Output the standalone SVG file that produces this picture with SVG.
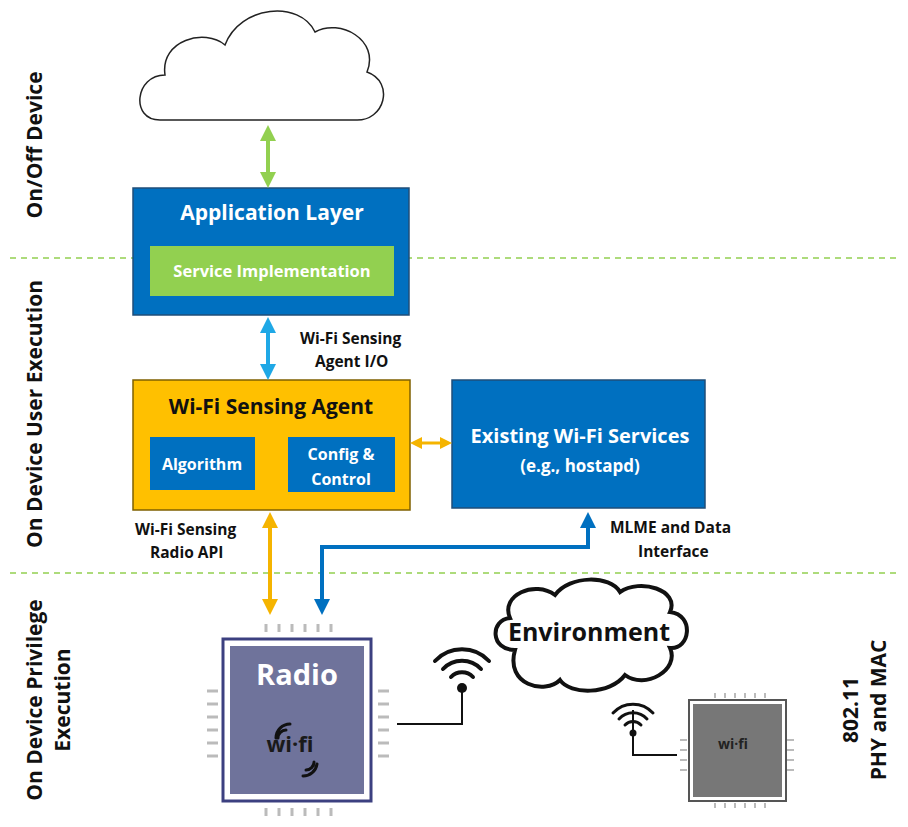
<svg xmlns="http://www.w3.org/2000/svg" width="908" height="827" viewBox="0 0 908 827">
<defs>
<style>
text{font-family:"Open Sans","Liberation Sans",sans-serif;font-weight:bold}
.w{fill:#fff}.k{fill:#111}
.dash{stroke:#92d050;stroke-width:1.5;stroke-dasharray:6 5}
.pin{stroke:#bbb;stroke-width:3}
.pin2{stroke:#bbb;stroke-width:2}
.wf{fill:none;stroke:#111;stroke-width:4;stroke-linecap:round}
.wfs{fill:none;stroke:#111;stroke-width:3;stroke-linecap:round}
</style>
<marker id="ag" markerWidth="4" markerHeight="4" refX="2" refY="2" orient="auto-start-reverse" markerUnits="strokeWidth"><path d="M0,0L4,2L0,4z" fill="#92d050"/></marker>
<marker id="ab" markerWidth="4" markerHeight="4" refX="2" refY="2" orient="auto-start-reverse" markerUnits="strokeWidth"><path d="M0,0L4,2L0,4z" fill="#1fa8e6"/></marker>
<marker id="ay" markerWidth="4" markerHeight="4" refX="2" refY="2" orient="auto-start-reverse" markerUnits="strokeWidth"><path d="M0,0L4,2L0,4z" fill="#f5b400"/></marker>
<marker id="ad" markerWidth="4" markerHeight="4" refX="2" refY="2" orient="auto-start-reverse" markerUnits="strokeWidth"><path d="M0,0L4,2L0,4z" fill="#0070c0"/></marker>
</defs>
<rect width="908" height="827" fill="#fff"/>
<line class="dash" x1="10" y1="258" x2="898" y2="258"/>
<line class="dash" x1="10" y1="573" x2="898" y2="573"/>
<g id="labels">
<text class="k" font-size="21" transform="translate(42,145) rotate(-90)" text-anchor="middle">On/Off Device</text>
<text class="k" font-size="21" transform="translate(42,414) rotate(-90)" text-anchor="middle">On Device User Execution</text>
<text class="k" font-size="21" transform="translate(42,700) rotate(-90)" text-anchor="middle">On Device Privilege</text>
<text class="k" font-size="21" transform="translate(70,700) rotate(-90)" text-anchor="middle">Execution</text>
<text class="k" font-size="21" transform="translate(858,710) rotate(-90)" text-anchor="middle">802.11</text>
<text class="k" font-size="21" transform="translate(886,710) rotate(-90)" text-anchor="middle">PHY and MAC</text>
</g>
<g id="cloud">
<path d="M160,120 C130,120 135,75 165,75 C160,40 205,28 225,45 C240,5 300,0 315,32 C340,18 380,40 367,72 C395,82 385,122 355,120 Z" fill="#fff" stroke="#222" stroke-width="1.5"/>
</g>
<g id="app">
<rect x="133" y="188" width="276" height="127" fill="#0070c0" stroke="#1f4e79" stroke-width="1.5"/>
<text class="w" x="272" y="220" font-size="21" text-anchor="middle">Application Layer</text>
<rect x="150" y="246" width="244" height="50" fill="#92d050"/>
<text class="w" x="272" y="277" font-size="16.5" text-anchor="middle">Service Implementation</text>
</g>
<g id="agent">
<rect x="133" y="380" width="277" height="130" fill="#ffc000" stroke="#7f6000" stroke-width="1.5"/>
<text class="k" x="271" y="414" font-size="21" text-anchor="middle">Wi-Fi Sensing Agent</text>
<rect x="150" y="437" width="105" height="53" fill="#0070c0"/>
<text class="w" x="202" y="470" font-size="16" text-anchor="middle">Algorithm</text>
<rect x="288" y="437" width="107" height="55" fill="#0070c0"/>
<text class="w" x="341" y="460" font-size="16" text-anchor="middle">Config &amp;</text>
<text class="w" x="341" y="485" font-size="16" text-anchor="middle">Control</text>
</g>
<g id="existing">
<rect x="452" y="380" width="253" height="128" fill="#0070c0" stroke="#1f4e79" stroke-width="1.5"/>
<text class="w" x="580" y="443" font-size="20" text-anchor="middle">Existing Wi-Fi Services</text>
<text class="w" x="580" y="472" font-size="17" text-anchor="middle">(e.g., hostapd)</text>
</g>
<g id="connectors" fill="none">
<line x1="268" y1="133" x2="268" y2="180" stroke="#92d050" stroke-width="4" marker-start="url(#ag)" marker-end="url(#ag)"/>
<line x1="268" y1="325" x2="268" y2="372" stroke="#1fa8e6" stroke-width="4" marker-start="url(#ab)" marker-end="url(#ab)"/>
<line x1="416" y1="443" x2="446" y2="443" stroke="#f5b400" stroke-width="3" marker-start="url(#ay)" marker-end="url(#ay)"/>
<line x1="270" y1="520" x2="270" y2="607" stroke="#f5b400" stroke-width="4" marker-start="url(#ay)" marker-end="url(#ay)"/>
<path d="M322,607 V547 H588 V520" stroke="#0070c0" stroke-width="4" marker-start="url(#ad)" marker-end="url(#ad)"/>
<text class="k" x="300" y="344" font-size="15.5">Wi-Fi Sensing</text>
<text class="k" x="315" y="367" font-size="15.5">Agent I/O</text>
<text class="k" x="135" y="535" font-size="15.5">Wi-Fi Sensing</text>
<text class="k" x="150" y="558" font-size="15.5">Radio API</text>
<text class="k" x="610" y="533" font-size="15.5">MLME and Data</text>
<text class="k" x="638" y="557" font-size="15.5">Interface</text>
<path d="M397,724 H462 V688" stroke="#111" stroke-width="2"/>
<path d="M677,755 H633 V710" stroke="#111" stroke-width="2"/>
</g>
<g id="radio">
<g class="pin"><path d="M266,624v8M279,624v8M292,624v8M305,624v8M318,624v8M331,624v8M266,808v8M279,808v8M292,808v8M305,808v8M318,808v8M331,808v8"/>
<path d="M207,691h11M207,704h11M207,717h11M207,730h11M207,743h11M207,756h11M378,691h11M378,704h11M378,717h11M378,730h11M378,743h11M378,756h11"/></g>
<rect x="223" y="639" width="148" height="162" fill="#fff" stroke="#3c4080" stroke-width="3"/>
<rect x="230" y="646" width="134" height="148" fill="#6f739b"/>
<text class="w" x="297" y="685" font-size="29" text-anchor="middle">Radio</text>
<text x="290" y="752" font-size="22" fill="#1a1a1a" text-anchor="middle" font-family="Liberation Serif,serif">wi·fi</text>
<path class="wfs" d="M278,738a8,8 0 0 1 8,-8M276,738a14,14 0 0 1 14,-14M314,762a8,8 0 0 1 -8,8M317,764a14,14 0 0 1 -14,12"/>
</g>
<g id="antenna1">
<circle cx="462" cy="688" r="5" fill="#111"/>
<path class="wf" d="M451,677a15,15 0 0 1 22,0M443,669a26,26 0 0 1 38,0M435,661a37,37 0 0 1 54,0"/>
</g>
<g id="environment">
<path d="M515,650 C490,650 490,620 510,618 C500,595 535,580 555,595 C570,575 610,575 620,592 C640,578 680,590 670,612 C695,615 690,650 670,648 C680,670 645,690 625,675 C610,695 570,695 560,680 C545,695 505,685 515,650 Z" fill="#fff" stroke="#111" stroke-width="4"/>
<text class="k" x="589" y="641" font-size="25" text-anchor="middle">Environment</text>
</g>
<g id="antenna2">
<circle cx="633" cy="733" r="3.5" fill="#111"/>
<path class="wfs" d="M625,725a11,11 0 0 1 16,0M619,719a19,19 0 0 1 28,0M613,713a27,27 0 0 1 40,0"/>
</g>
<g id="chip2">
<g class="pin2"><path d="M715,693v5M725,693v5M735,693v5M745,693v5M755,693v5M765,693v5M715,803v5M725,803v5M735,803v5M745,803v5M755,803v5M765,803v5M680,740h7M680,750h7M680,760h7M680,770h7M787,740h7M787,750h7M787,760h7M787,770h7"/></g>
<rect x="689" y="700" width="97" height="101" fill="#fff" stroke="#555" stroke-width="2"/>
<rect x="693" y="704" width="89" height="93" fill="#777"/>
<text x="733" y="749" font-size="14" fill="#222" text-anchor="middle" font-family="Liberation Serif,serif">wi·fi</text>
</g>
</svg>
